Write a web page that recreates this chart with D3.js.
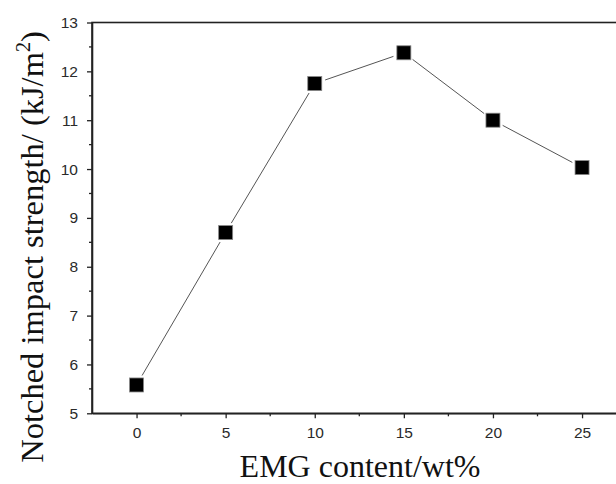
<!DOCTYPE html>
<html><head><meta charset="utf-8">
<script src="https://cdn.jsdelivr.net/npm/d3@7"></script>
<style>body{margin:0;background:#fff;} svg{display:block;}</style>
</head><body>
<svg id="chart" width="616" height="484"></svg>
<script>
const emgContent = [0, 5, 10, 15, 20, 25];
const impactStrength = [5.58, 8.7, 11.75, 12.38, 11.0, 10.03];
const xTicks = [0, 5, 10, 15, 20, 25];
const yTicks = [5, 6, 7, 8, 9, 10, 11, 12, 13];
const xTitle = "EMG content/wt%";
const yTitle = "Notched impact strength/ (kJ/m";

(function () {
const svg = d3.select("#chart");
const pLeft = 92, pTop = 22.5, pBottom = 413.3, pRight = 626.6;
const x = d3.scaleLinear().domain([-2.5, 27.5]).range([pLeft, pRight]);
const y = d3.scaleLinear().domain([5, 13]).range([pBottom, pTop]);

const axisColor = "#222";
svg.append("rect").attr("x", pLeft).attr("y", pTop).attr("width", pRight - pLeft).attr("height", pBottom - pTop)
  .attr("fill", "none").attr("stroke", axisColor).attr("stroke-width", 1.6);

const xAxis = d3.axisBottom(x).tickValues(xTicks).tickSize(5).tickPadding(9).tickSizeOuter(0);
const gx = svg.append("g").attr("transform", `translate(0,${pBottom})`).call(xAxis);
const xMinor = [2.5, 7.5, 12.5, 17.5, 22.5];
gx.selectAll(".minor").data(xMinor).join("line").attr("class", "minor")
  .attr("x1", d => x(d)).attr("x2", d => x(d)).attr("y1", 0).attr("y2", 3).attr("stroke", axisColor).attr("stroke-width", 1.3);

const yAxis = d3.axisLeft(y).tickValues(yTicks).tickSize(5).tickPadding(9).tickSizeOuter(0);
const gy = svg.append("g").attr("transform", `translate(${pLeft},0)`).call(yAxis);
const yMinor = [5.5, 6.5, 7.5, 8.5, 9.5, 10.5, 11.5, 12.5];
gy.selectAll(".minor").data(yMinor).join("line").attr("class", "minor")
  .attr("x1", 0).attr("x2", -3).attr("y1", d => y(d)).attr("y2", d => y(d)).attr("stroke", axisColor).attr("stroke-width", 1.3);

[gx, gy].forEach(g => {
  g.select(".domain").attr("stroke", axisColor).attr("stroke-width", 1.6);
  g.selectAll(".tick line").attr("stroke", axisColor).attr("stroke-width", 1.3);
  g.selectAll("text").attr("font-family", "Liberation Sans, Arial, sans-serif").attr("font-size", 15.5).attr("fill", "#2a2a2a");
});

const pts = emgContent.map((d, i) => [x(d), y(impactStrength[i])]);
const gap = 11;
for (let i = 0; i < pts.length - 1; i++) {
  const [x1, y1] = pts[i], [x2, y2] = pts[i + 1];
  const dx = x2 - x1, dy = y2 - y1, L = Math.hypot(dx, dy);
  const ux = dx / L, uy = dy / L;
  svg.append("line").attr("x1", x1 + ux * gap).attr("y1", y1 + uy * gap)
    .attr("x2", x2 - ux * gap).attr("y2", y2 - uy * gap)
    .attr("stroke", "#555").attr("stroke-width", 1);
}

const ms = 14;
svg.selectAll(".pt").data(emgContent).join("rect").attr("class", "pt")
  .attr("x", (d) => x(d) - ms / 2).attr("y", (d, i) => y(impactStrength[i]) - ms / 2)
  .attr("width", ms).attr("height", ms).attr("fill", "#000").attr("stroke", "#888").attr("stroke-width", 0.8);

svg.append("text").attr("x", 360).attr("y", 477).attr("text-anchor", "middle")
  .attr("font-family", "Liberation Serif, Times New Roman, serif").attr("font-size", 32).attr("fill", "#111")
  .text(xTitle);
const yt = svg.append("text").attr("transform", "translate(43,247) rotate(-90)").attr("text-anchor", "middle")
  .attr("font-family", "Liberation Serif, Times New Roman, serif").attr("font-size", 32.5).attr("fill", "#111");
yt.append("tspan").text(yTitle);
yt.append("tspan").attr("dy", -13).attr("font-size", 20).text("2");
yt.append("tspan").attr("dy", 13).text(")");
})();
</script>
</body></html>
